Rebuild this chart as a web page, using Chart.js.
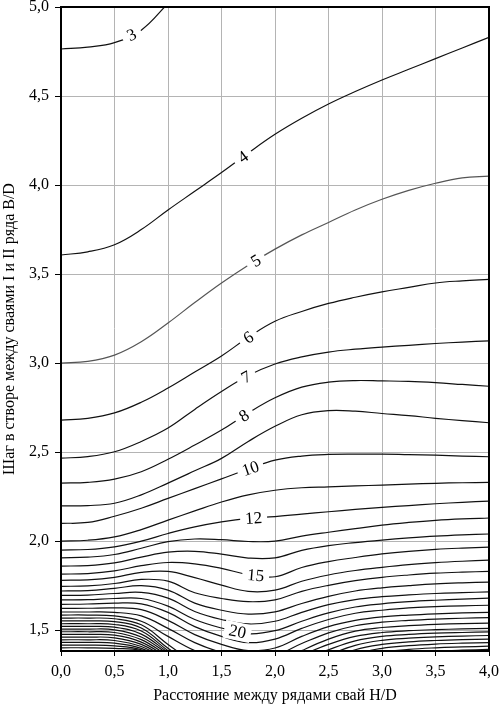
<!DOCTYPE html>
<html>
<head>
<meta charset="utf-8">
<script src="https://cdn.jsdelivr.net/npm/chart.js@4.4.1/dist/chart.umd.min.js"></script>
<style>
  html, body { margin: 0; padding: 0; background: #fff; }
</style>
</head>
<body>
<canvas id="chart" width="501" height="710"></canvas>
<script>
// Contour map: B/D vs H/D, one line per level
const X_TITLE = 'Расстояние между рядами свай H/D';
const Y_TITLE = 'Шаг в створе между сваями I и II ряда B/D';

const XS = [0, 0.25, 0.5, 0.75, 1, 1.25, 1.5, 1.75, 2, 2.25, 2.5, 2.75, 3, 3.25, 3.5, 3.75, 4];
const yTicks = [1.5, 2.0, 2.5, 3.0, 3.5, 4.0, 4.5, 5.0];

// y of each contour at XS (null = off the chart)
const c3  = [4.764, 4.775, 4.80, 4.87, 5.02, null, null, null, null, null, null, null, null, null, null, null, null];
const c4  = [3.607, 3.625, 3.665, 3.75, 3.86, 3.965, 4.07, 4.18, 4.285, 4.375, 4.455, 4.525, 4.59, 4.65, 4.71, 4.77, 4.83];
const c5  = [3.0, 3.01, 3.045, 3.12, 3.225, 3.34, 3.45, 3.55, 3.64, 3.72, 3.79, 3.86, 3.92, 3.97, 4.01, 4.04, 4.05];
const c6  = [2.68, 2.69, 2.72, 2.78, 2.86, 2.95, 3.04, 3.145, 3.235, 3.29, 3.335, 3.37, 3.40, 3.425, 3.45, 3.462, 3.47];
const c7  = [2.466, 2.475, 2.502, 2.56, 2.635, 2.74, 2.84, 2.93, 2.995, 3.035, 3.062, 3.078, 3.09, 3.10, 3.11, 3.118, 3.125];
const c8  = [2.326, 2.33, 2.348, 2.39, 2.46, 2.54, 2.624, 2.72, 2.805, 2.865, 2.893, 2.902, 2.90, 2.897, 2.89, 2.88, 2.87];
const c9  = [2.198, 2.20, 2.213, 2.26, 2.326, 2.395, 2.465, 2.56, 2.645, 2.71, 2.733, 2.73, 2.717, 2.705, 2.69, 2.677, 2.665];
const c10 = [2.10, 2.105, 2.14, 2.185, 2.24, 2.295, 2.35, 2.405, 2.455, 2.478, 2.487, 2.489, 2.489, 2.486, 2.483, 2.478, 2.474];
const c11 = [2.0, 2.005, 2.024, 2.065, 2.118, 2.17, 2.22, 2.26, 2.286, 2.30, 2.305, 2.31, 2.315, 2.32, 2.325, 2.328, 2.33];
const c12 = [1.95, 1.953, 1.968, 2.0, 2.043, 2.08, 2.108, 2.128, 2.138, 2.152, 2.165, 2.178, 2.19, 2.20, 2.21, 2.218, 2.225];
const c13 = [1.906, 1.91, 1.925, 1.96, 1.997, 2.012, 2.008, 1.998, 2.0, 2.028, 2.05, 2.07, 2.09, 2.105, 2.117, 2.125, 2.13];
const c14 = [1.86, 1.863, 1.878, 1.91, 1.938, 1.943, 1.927, 1.905, 1.906, 1.948, 1.975, 1.992, 2.006, 2.018, 2.028, 2.035, 2.04];
const c15 = [1.815, 1.818, 1.833, 1.862, 1.88, 1.872, 1.847, 1.812, 1.80, 1.852, 1.885, 1.908, 1.928, 1.943, 1.954, 1.961, 1.966];
const c16 = [1.78, 1.783, 1.797, 1.825, 1.83, 1.795, 1.753, 1.718, 1.725, 1.775, 1.81, 1.835, 1.853, 1.868, 1.879, 1.887, 1.893];
const c17 = [1.746, 1.749, 1.762, 1.785, 1.775, 1.71, 1.678, 1.66, 1.67, 1.718, 1.752, 1.778, 1.797, 1.81, 1.82, 1.826, 1.83];
const c18 = [1.72, 1.722, 1.735, 1.75, 1.725, 1.652, 1.612, 1.59, 1.603, 1.65, 1.69, 1.72, 1.738, 1.75, 1.76, 1.766, 1.77];
const c19 = [1.695, 1.697, 1.706, 1.712, 1.68, 1.605, 1.56, 1.535, 1.55, 1.60, 1.643, 1.672, 1.688, 1.698, 1.706, 1.711, 1.715];
const c20 = [1.67, 1.671, 1.678, 1.678, 1.635, 1.56, 1.512, 1.48, 1.497, 1.55, 1.597, 1.63, 1.648, 1.66, 1.668, 1.674, 1.68];
const c21 = [1.645, 1.647, 1.652, 1.648, 1.60, 1.52, 1.465, 1.43, 1.45, 1.51, 1.56, 1.595, 1.612, 1.625, 1.632, 1.637, 1.64];
const c22 = [1.622, 1.623, 1.625, 1.615, 1.555, 1.475, 1.42, 1.385, 1.40, 1.465, 1.52, 1.555, 1.575, 1.585, 1.592, 1.597, 1.60];
const c23 = [1.602, 1.602, 1.60, 1.58, 1.51, 1.43, 1.375, 1.345, 1.36, 1.425, 1.485, 1.525, 1.545, 1.555, 1.562, 1.567, 1.57];
const c24 = [1.585, 1.585, 1.58, 1.55, 1.465, 1.385, 1.33, 1.30, 1.31, 1.385, 1.45, 1.495, 1.515, 1.525, 1.532, 1.537, 1.54];
const c25 = [1.568, 1.568, 1.564, 1.53, 1.42, 1.31, null, null, 1.30, 1.36, 1.42, 1.465, 1.487, 1.497, 1.503, 1.507, 1.51];
const c26 = [1.552, 1.552, 1.548, 1.512, 1.398, 1.29, null, null, 1.28, 1.33, 1.39, 1.44, 1.465, 1.476, 1.483, 1.487, 1.49];
const c27 = [1.536, 1.536, 1.532, 1.495, 1.385, 1.28, null, null, null, 1.30, 1.36, 1.415, 1.443, 1.455, 1.462, 1.467, 1.47];
const c28 = [1.521, 1.521, 1.517, 1.478, 1.375, 1.27, null, null, null, 1.28, 1.33, 1.39, 1.42, 1.434, 1.442, 1.447, 1.45];
const c29 = [1.506, 1.506, 1.502, 1.462, 1.365, 1.26, null, null, null, null, 1.30, 1.365, 1.398, 1.413, 1.422, 1.427, 1.43];
const c30 = [1.491, 1.491, 1.487, 1.447, 1.355, null, null, null, null, null, 1.28, 1.34, 1.375, 1.392, 1.401, 1.406, 1.41];
const c31 = [1.476, 1.476, 1.472, 1.433, 1.345, null, null, null, null, null, null, 1.32, 1.355, 1.372, 1.382, 1.388, 1.392];
const c32 = [1.461, 1.461, 1.457, 1.42, 1.335, null, null, null, null, null, null, null, null, null, null, null, null];
const c33 = [1.446, 1.446, 1.442, 1.408, 1.33, null, null, null, null, null, null, null, null, null, null, null, null];
const c34 = [1.431, 1.431, 1.427, 1.398, 1.325, null, null, null, null, null, null, null, null, null, null, null, null];
const c35 = [1.416, 1.416, 1.412, 1.39, 1.32, null, null, null, null, null, null, null, null, null, null, null, null];
const c36 = [1.401, 1.401, 1.398, 1.385, 1.315, null, null, null, null, null, null, null, null, null, null, null, null];

const contours = [
  [3, c3], [4, c4], [5, c5], [6, c6], [7, c7], [8, c8], [9, c9], [10, c10],
  [11, c11], [12, c12], [13, c13], [14, c14], [15, c15], [16, c16], [17, c17],
  [18, c18], [19, c19], [20, c20], [21, c21], [22, c22], [23, c23], [24, c24],
  [25, c25], [26, c26], [27, c27], [28, c28], [29, c29], [30, c30], [31, c31],
  [32, c32], [33, c33], [34, c34], [35, c35], [36, c36]
];

// where along x each labelled contour carries its number
const labelSpots = [[3, 0.66], [4, 1.70], [5, 1.82], [6, 1.75], [7, 1.73], [8, 1.71],
                    [10, 1.77], [12, 1.80], [15, 1.82], [20, 1.65]];

const fmt = v => Number(v).toFixed(1).replace('.', ',');

function valueAt(ys, t) {
  for (let i = 0; i < XS.length - 1; i++) {
    if (t >= XS[i] && t <= XS[i + 1]) {
      const k = (t - XS[i]) / (XS[i + 1] - XS[i]);
      return ys[i] + k * (ys[i + 1] - ys[i]);
    }
  }
  return ys[ys.length - 1];
}

const contourLabels = {
  id: 'contourLabels',
  afterDatasetsDraw(chart) {
    const { ctx, scales: { x, y } } = chart;
    ctx.save();
    ctx.font = '17px "Liberation Serif", "Times New Roman", serif';
    ctx.textAlign = 'center';
    ctx.textBaseline = 'middle';
    labelSpots.forEach(([lvl, lx]) => {
      const ys = contours.find(c => c[0] === lvl)[1];
      const pt = t => [x.getPixelForValue(t), y.getPixelForValue(valueAt(ys, t))];
      const [ax, ay] = pt(lx - 0.06);
      const [bx, by] = pt(lx + 0.06);
      const [mx, my] = pt(lx);
      const ang = Math.atan2(by - ay, bx - ax);
      const txt = String(lvl);
      const w = Math.max(ctx.measureText(txt).width + 10, 20);
      ctx.save();
      ctx.translate(mx, my);
      ctx.rotate(ang);
      ctx.fillStyle = '#fff';
      ctx.fillRect(-w / 2, -9, w, 18);
      ctx.fillStyle = '#000';
      ctx.fillText(txt, 0, 1);
      ctx.restore();
    });
    ctx.restore();
  }
};

const frame = {
  id: 'frame',
  afterDraw(chart) {
    const { ctx, chartArea: a } = chart;
    ctx.save();
    ctx.strokeStyle = '#000';
    ctx.lineWidth = 2;
    ctx.strokeRect(a.left, a.top, a.right - a.left, a.bottom - a.top);
    ctx.restore();
  }
};

const serif = { family: '"Liberation Serif", "Times New Roman", serif', size: 16 };

new Chart(document.getElementById('chart'), {
  type: 'line',
  data: {
    datasets: contours.map(([lvl, ys]) => ({
      label: String(lvl),
      data: XS.map((x, i) => ({ x: x, y: ys[i] })),
      borderColor: lvl === 5 ? '#555' : '#111',
      borderWidth: 1.2,
      pointRadius: 0,
      fill: false,
      tension: 0.4,
      spanGaps: false,
      clip: 0
    }))
  },
  options: {
    responsive: false,
    animation: false,
    events: [],
    layout: { padding: { top: 7, right: 12, left: 0, bottom: 0 } },
    plugins: {
      legend: { display: false },
      tooltip: { enabled: false }
    },
    scales: {
      x: {
        type: 'linear',
        min: 0,
        max: 4,
        ticks: { stepSize: 0.5, color: '#000', font: serif, padding: 6, maxRotation: 0, callback: v => fmt(v) },
        grid: { color: '#b4b4b4', lineWidth: 1, tickLength: 5, tickColor: '#000' },
        border: { color: '#000', width: 2 },
        title: { display: true, text: X_TITLE, color: '#000', font: serif, padding: { top: 4, bottom: 5 } },
        afterFit(scale) {
          scale.height = 59;
          scale.paddingLeft = 0;
          scale.paddingRight = 0;
        }
      },
      y: {
        type: 'linear',
        min: 1.383,
        max: 5.0,
        afterBuildTicks(scale) {
          scale.ticks = yTicks.map(v => ({ value: v }));
        },
        ticks: { color: '#000', font: serif, padding: 6, callback: v => fmt(v) },
        grid: { color: '#b4b4b4', lineWidth: 1, tickLength: 6, tickColor: '#000' },
        border: { color: '#000', width: 2 },
        title: { display: true, text: Y_TITLE, color: '#000', font: serif, padding: { top: 0, bottom: 0 } },
        afterFit(scale) {
          scale.width = 61;
          scale.paddingTop = 0;
          scale.paddingBottom = 0;
        }
      }
    }
  },
  plugins: [contourLabels, frame]
});
</script>
</body>
</html>
